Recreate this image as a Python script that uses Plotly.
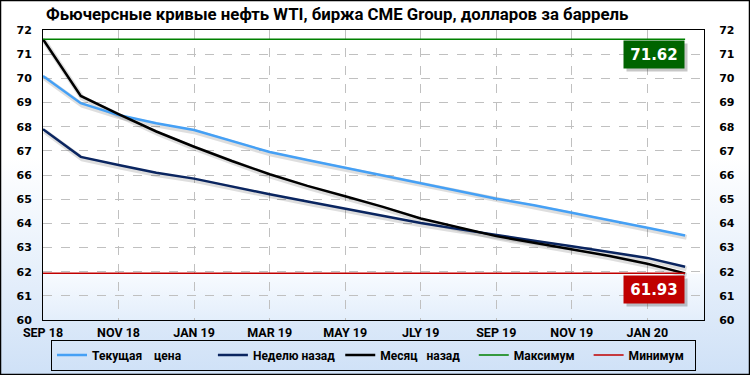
import plotly.graph_objects as go
import urllib.parse

# ---------------- data ----------------
months = ["SEP 18", "OCT 18", "NOV 18", "DEC 18", "JAN 19", "FEB 19", "MAR 19",
          "APR 19", "MAY 19", "JUN 19", "JLY 19", "AUG 19", "SEP 19", "OCT 19",
          "NOV 19", "DEC 19", "JAN 20", "FEB 20"]
current = [70.10, 68.97, 68.48, 68.14, 67.86, 67.40, 66.95, 66.62, 66.30,
           65.98, 65.67, 65.35, 65.02, 64.75, 64.45, 64.15, 63.82, 63.50]
week_ago = [67.89, 66.75, 66.41, 66.09, 65.85, 65.52, 65.20, 64.90, 64.61,
            64.29, 64.01, 63.76, 63.51, 63.28, 63.05, 62.82, 62.57, 62.20]
month_ago = [71.62, 69.27, 68.52, 67.80, 67.17, 66.58, 66.03, 65.55, 65.12,
             64.68, 64.20, 63.82, 63.47, 63.20, 62.93, 62.65, 62.33, 61.93]
NB = "\u00a0"
series_names = ["Текущая" + NB * 4 + "цена" + NB * 9,
                "Неделю назад",
                "Месяц" + NB * 3 + "назад" + NB * 3,
                "Максимум" + NB * 3,
                "Минимум" + NB * 2]
title_text = "Фьючерсные кривые нефть WTI, биржа CME Group, долларов за баррель"

y_range = [60, 72]
x_range = [0, 17.5]

# ---------------- layout constants ----------------
W, H = 750, 375
ML, MR, MT, MB = 43, 46, 30, 55
PW, PH = W - ML - MR, H - MT - MB

xs = list(range(len(months)))
max_val = max(current + week_ago + month_ago)
min_val = min(current + week_ago + month_ago)

c_cur = "#45a0f5"
c_week = "#0a2560"
c_month = "#000000"
c_max = "#008000"
c_min = "#c00000"

NARROW = "Roboto"

# shadow offsets (pixels -> axis units)
dx = 1.5 * (x_range[1] - x_range[0]) / PW
dy = 2.0 * (y_range[1] - y_range[0]) / PH

fig = go.Figure()

# shadows on hidden base axes (shifted)
for vals in [week_ago, month_ago, current]:
    fig.add_trace(go.Scatter(x=xs, y=vals, mode="lines", xaxis="x", yaxis="y",
                             line=dict(color="rgba(0,0,0,0.13)", width=5),
                             hoverinfo="skip", showlegend=False))

# main lines on visible overlay axes
fig.add_trace(go.Scatter(x=xs, y=current, mode="lines", name=series_names[0],
                         xaxis="x2", yaxis="y2", line=dict(color=c_cur, width=2.5)))
fig.add_trace(go.Scatter(x=xs, y=week_ago, mode="lines", name=series_names[1],
                         xaxis="x2", yaxis="y2", line=dict(color=c_week, width=2.5)))
fig.add_trace(go.Scatter(x=xs, y=month_ago, mode="lines", name=series_names[2],
                         xaxis="x2", yaxis="y2", line=dict(color=c_month, width=2.5)))
fig.add_trace(go.Scatter(x=xs, y=[max_val] * len(xs), mode="lines", name=series_names[3],
                         xaxis="x2", yaxis="y2", line=dict(color=c_max, width=1.5)))
fig.add_trace(go.Scatter(x=xs, y=[min_val] * len(xs), mode="lines", name=series_names[4],
                         xaxis="x2", yaxis="y2", line=dict(color=c_min, width=1.5)))


def svg_uri(svg):
    return "data:image/svg+xml;charset=utf-8," + urllib.parse.quote(svg)


bg_svg = (
    "<svg xmlns='http://www.w3.org/2000/svg' width='750' height='375' preserveAspectRatio='none'>"
    "<defs><linearGradient id='g' x1='0' y1='0' x2='0' y2='1'>"
    "<stop offset='0' stop-color='#ffffff'/><stop offset='0.42' stop-color='#ffffff'/>"
    "<stop offset='1' stop-color='#cfe1f7'/></linearGradient></defs>"
    "<rect x='0' y='0' width='750' height='375' fill='url(#g)'/>"
    "<rect x='0.5' y='0.5' width='749' height='374' fill='none' stroke='#000' stroke-width='1.5'/>"
    "</svg>")
white_svg = ("<svg xmlns='http://www.w3.org/2000/svg' width='10' height='10' preserveAspectRatio='none'>"
             "<rect width='10' height='10' fill='#ffffff'/></svg>")
tint_svg = (
    "<svg xmlns='http://www.w3.org/2000/svg' width='10' height='100' preserveAspectRatio='none'>"
    "<defs><linearGradient id='t' x1='0' y1='0' x2='0' y2='1'>"
    "<stop offset='0' stop-color='#f8fbff'/><stop offset='1' stop-color='#e3eefb'/>"
    "</linearGradient></defs><rect width='10' height='100' fill='url(#t)'/></svg>")

images = [
    dict(source=svg_uri(bg_svg), xref="paper", yref="paper",
         x=-ML / PW, y=1 + MT / PH, sizex=W / PW, sizey=H / PH,
         xanchor="left", yanchor="top", sizing="stretch", layer="below"),
    dict(source=svg_uri(white_svg), xref="paper", yref="paper",
         x=0, y=1, sizex=1, sizey=1, xanchor="left", yanchor="top",
         sizing="stretch", layer="below"),
    dict(source=svg_uri(tint_svg), xref="paper", yref="y2",
         x=0, y=min_val, sizex=1, sizey=min_val - y_range[0], xanchor="left", yanchor="top",
         sizing="stretch", layer="below"),
]

tick_font = dict(family="DejaVu Sans", size=11, color="#000", weight="bold")

annotations = []
for val, col, yv in [(max_val, "#006400", 70.97), (min_val, c_min, 61.25)]:
    txt = f"{val:.2f}"
    annotations.append(dict(x=16.18, y=yv, xref="x2", yref="y2", text=NB, showarrow=False,
                            xshift=3, yshift=-3, bgcolor="rgba(0,0,0,0.22)",
                            width=52, height=19, borderpad=4,
                            font=dict(family="DejaVu Sans", size=15, color="rgba(0,0,0,0)")))
    annotations.append(dict(x=16.18, y=yv, xref="x2", yref="y2", text=txt, showarrow=False,
                            bgcolor=col, width=52, height=19, borderpad=4,
                            font=dict(family="DejaVu Sans", size=15, color="#ffffff", weight="bold")))

fig.update_layout(
    width=W, height=H,
    margin=dict(l=ML, r=MR, t=MT, b=MB, pad=0, autoexpand=False),
    paper_bgcolor="#ffffff",
    plot_bgcolor="rgba(0,0,0,0)",
    images=images,
    annotations=annotations,
    title=dict(text=title_text, x=46 / W, xanchor="left", xref="container",
               y=1 - 14 / H, yanchor="middle", yref="container",
               font=dict(family=NARROW, size=16.8, color="#000", weight="bold")),
    showlegend=True,
    legend=dict(orientation="h", x=0.5, xanchor="center", xref="paper",
                y=-35 / PH, yanchor="middle", yref="paper",
                bgcolor="rgba(0,0,0,0)", bordercolor="#000", borderwidth=1,
                font=dict(family=NARROW, size=12, color="#000", weight="bold"),
                itemwidth=30, tracegroupgap=0),
    xaxis=dict(range=[x_range[0] - dx, x_range[1] - dx], visible=False, fixedrange=True),
    yaxis=dict(range=[y_range[0] + dy, y_range[1] + dy], visible=False, fixedrange=True),
    xaxis2=dict(overlaying="x", range=x_range, tickmode="array",
                tickvals=xs[::2], ticktext=months[::2],
                showgrid=True, gridcolor="#c0c0c0", griddash="dash", gridwidth=1,
                showline=True, linecolor="#000", linewidth=1, mirror=True,
                ticks="outside", ticklen=1, tickcolor="rgba(0,0,0,0)",
                tickfont=dict(family=NARROW, size=12.5, color="#000", weight="bold"),
                zeroline=False, side="bottom", anchor="y2"),
    yaxis2=dict(overlaying="y", range=y_range, dtick=1, tick0=60,
                showgrid=True, gridcolor="#c0c0c0", griddash="dash", gridwidth=1,
                showline=True, linecolor="#000", linewidth=1, mirror=True,
                ticks="outside", ticklen=8, tickcolor="rgba(0,0,0,0)",
                tickfont=tick_font, zeroline=False, side="left", anchor="x2"),
    yaxis3=dict(overlaying="y", range=y_range, dtick=1, tick0=60, side="right",
                showgrid=False, zeroline=False, showline=False,
                ticks="outside", ticklen=12, tickcolor="rgba(0,0,0,0)",
                tickfont=tick_font, anchor="x2"),
)

# invisible trace to activate the right axis
fig.add_trace(go.Scatter(x=[xs[0]], y=[y_range[0]], xaxis="x2", yaxis="y3", mode="markers",
                         marker=dict(opacity=0), showlegend=False, hoverinfo="skip"))

fig.write_html("out.html", config={"displayModeBar": False},
               post_script="document.body.style.margin='0';document.body.style.overflow='hidden';")
